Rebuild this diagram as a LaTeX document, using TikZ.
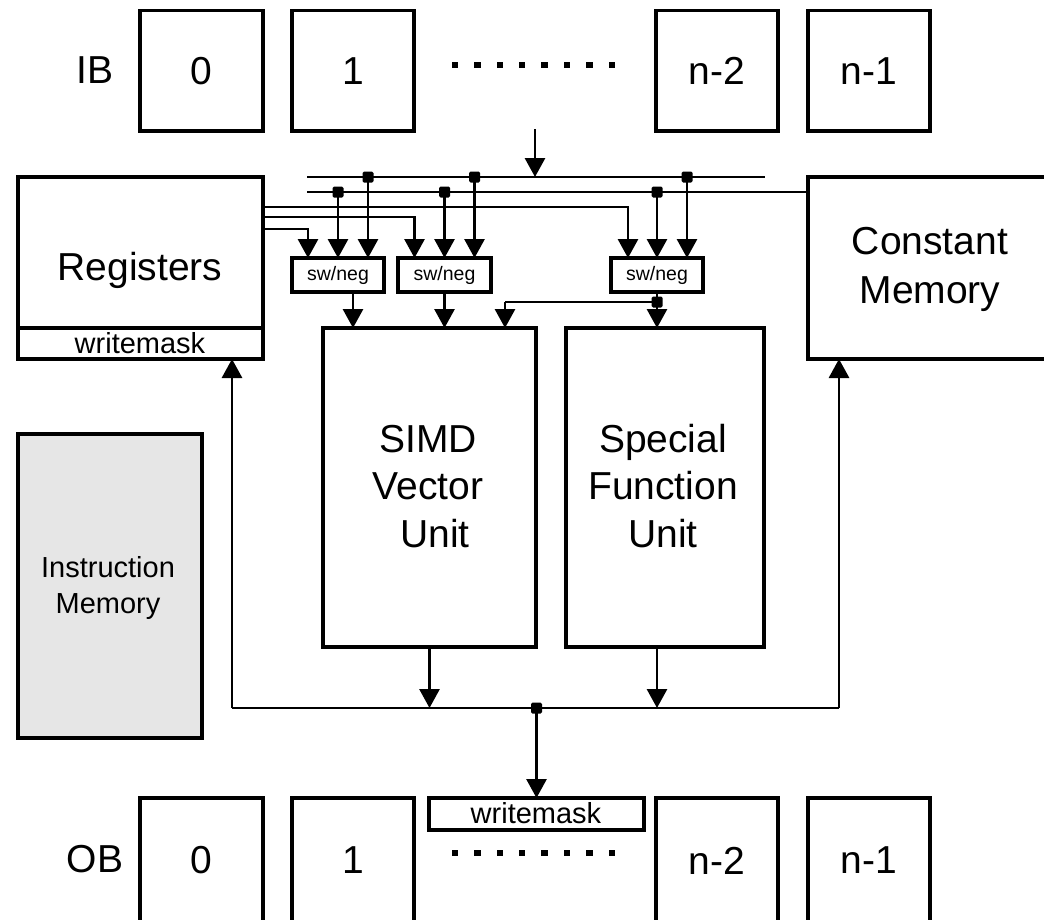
\documentclass[tikz,border=0pt]{standalone}
\usepackage{fontspec}
\setmainfont{Liberation Sans}
\usetikzlibrary{arrows.meta}
\definecolor{imgray}{HTML}{E6E6E6}
\begin{document}
\begin{tikzpicture}[x=1pt,y=-1pt,
  box/.style={draw, line width=3.2pt, inner sep=0pt, outer sep=0pt, anchor=north west},
  bigtxt/.style={font=\fontsize{39}{47}\selectfont, inner sep=0pt, anchor=base},
  midtxt/.style={font=\fontsize{29}{35}\selectfont, inner sep=0pt, anchor=base},
  tinytxt/.style={font=\fontsize{19.5}{22}\selectfont},
  wire/.style={line width=2.9pt},
  arr/.style={wire, -{Triangle[width=20pt,length=19pt]}},
  jdot/.style={fill, rounded corners=1.5pt, minimum size=11pt, inner sep=0pt},
  dotsq/.style={fill, minimum size=6.5pt, inner sep=0pt}
]
\useasboundingbox (0,0) rectangle (1044,919);

% ---------- input buffers ----------
\node[bigtxt] (iblbl) at (95,83) {IB};
\node[box, minimum width=123, minimum height=120.5, font=\fontsize{39}{47}\selectfont] (ib0) at (140,10.5) {0};
\node[box, minimum width=122, minimum height=120.5, font=\fontsize{39}{47}\selectfont] (ib1) at (292,10.5) {1};
\node[box, minimum width=122, minimum height=120.5, font=\fontsize{39}{47}\selectfont] (ib2) at (656,10.5) {n-2};
\node[box, minimum width=122, minimum height=120.5, font=\fontsize{39}{47}\selectfont] (ib3) at (808,10.5) {n-1};
\foreach \i in {0,...,7} \node[dotsq] (ibd\i) at (455+\i*22.4,65) {};

% ---------- output buffers ----------
\node[bigtxt] (oblbl) at (95,872) {OB};
\node[box, minimum width=123, minimum height=125, font=\fontsize{39}{47}\selectfont] (ob0) at (140,798) {0};
\node[box, minimum width=122, minimum height=125, font=\fontsize{39}{47}\selectfont] (ob1) at (292,798) {1};
\node[box, minimum width=122, minimum height=125, font=\fontsize{39}{47}\selectfont] (ob2) at (656,798) {n-2};
\node[box, minimum width=122, minimum height=125, font=\fontsize{39}{47}\selectfont] (ob3) at (808,798) {n-1};
\foreach \i in {0,...,7} \node[dotsq] (obd\i) at (455+\i*22.4,853) {};
\node[box, minimum width=215, minimum height=32] (obwm) at (429,798) {};
\node[midtxt] (obwmlbl) at (536,823) {writemask};

% ---------- registers ----------
\node[box, minimum width=245, minimum height=182] (reg) at (18,177) {};
\coordinate (yW) at (0,328);
\draw[line width=3.2pt] (reg.west |- yW) -- (reg.east |- yW);
\node[bigtxt] (reglbl) at (140,280) {Registers};
\node[midtxt] (regwm) at (140,353) {writemask};

% ---------- constant memory ----------
\node[box, minimum width=300, minimum height=182] (cm) at (808,177) {};
\node[bigtxt] (cm1) at (930,254) {Constant};
\node[bigtxt] (cm2) at (930,303) {Memory};

% ---------- instruction memory ----------
\node[box, fill=imgray, minimum width=184, minimum height=304] (im) at (18,434) {};
\node[midtxt] (im1) at (108,577) {Instruction};
\node[midtxt] (im2) at (108,613) {Memory};

% ---------- functional units ----------
\node[box, minimum width=213, minimum height=319] (simd) at (323,328) {};
\node[bigtxt] (simd1) at (428,452) {SIMD};
\node[bigtxt] (simd2) at (428,499) {Vector};
\node[bigtxt] (simd3) at (435,547) {Unit};
\node[box, minimum width=198, minimum height=319] (sfu) at (566,328) {};
\node[bigtxt] (sfu1) at (663,452) {Special};
\node[bigtxt] (sfu2) at (663,499) {Function};
\node[bigtxt] (sfu3) at (663,547) {Unit};

% ---------- swizzle / negate ----------
\node[box, minimum width=92, minimum height=34, tinytxt] (sw1) at (292,258) {sw/neg};
\node[box, minimum width=93, minimum height=34, tinytxt] (sw2) at (398,258) {sw/neg};
\node[box, minimum width=92, minimum height=34, tinytxt] (sw3) at (611,258) {sw/neg};

% ---------- input bus ----------
\coordinate (inA) at (535,129);
\coordinate (busAw) at (307,177);
\coordinate (busAe) at (765,177);
\coordinate (busBw) at (307,192);
\draw[wire] (busAw) -- (busAe);
\draw[wire] (busBw) -- (busBw -| cm.west);
\draw[arr] (inA) -- (inA |- busAw);

% register read ports
\coordinate (yC) at (0,207);
\coordinate (yD) at (0,217);
\coordinate (yE) at (0,229);
\draw[arr] (reg.east |- yC) -| ([xshift=-29pt]sw3.north);
\draw[arr] (reg.east |- yD) -| ([xshift=-30pt]sw2.north);
\draw[arr] (reg.east |- yE) -| ([xshift=-30pt]sw1.north);

% bus drops
\foreach \s in {sw1,sw2,sw3} {
  \node[jdot] (\s b) at (\s.north |- busBw) {};
  \draw[arr] (\s b.center) -- (\s.north);
  \node[jdot] (\s a) at ([xshift=30pt]\s.north |- busAw) {};
  \draw[arr] (\s a.center) -- ([xshift=30pt]\s.north);
}

% sw/neg outputs
\draw[arr] ([xshift=15pt]sw1.south) -- ([xshift=15pt]sw1.south |- simd.north);
\draw[arr] (sw2.south) -- (sw2.south |- simd.north);
\draw[arr] (sw3.south) -- (sw3.south |- sfu.north);
\coordinate (yBr) at (0,302);
\node[jdot] (brdot) at (sw3.south |- yBr) {};
\coordinate (brL) at (505,302);
\draw[wire] (brdot.center) -- (brL);
\draw[arr] (brL) -- (brL |- simd.north);

% ---------- output bus ----------
\coordinate (busL) at (232,708);
\coordinate (busR) at (839,708);
\draw[wire] (busL) -- (busR);
\draw[arr] (busL) -- (busL |- reg.south);
\draw[arr] (busR) -- (busR |- cm.south);
\draw[arr] (simd.south) -- (simd.south |- busL);
\draw[arr] (sw3.south |- sfu.south) -- (sw3.south |- busL);
\node[jdot] (outdot) at (obwm.north |- busL) {};
\draw[arr] (outdot.center) -- (obwm.north);
\end{tikzpicture}
\end{document}
